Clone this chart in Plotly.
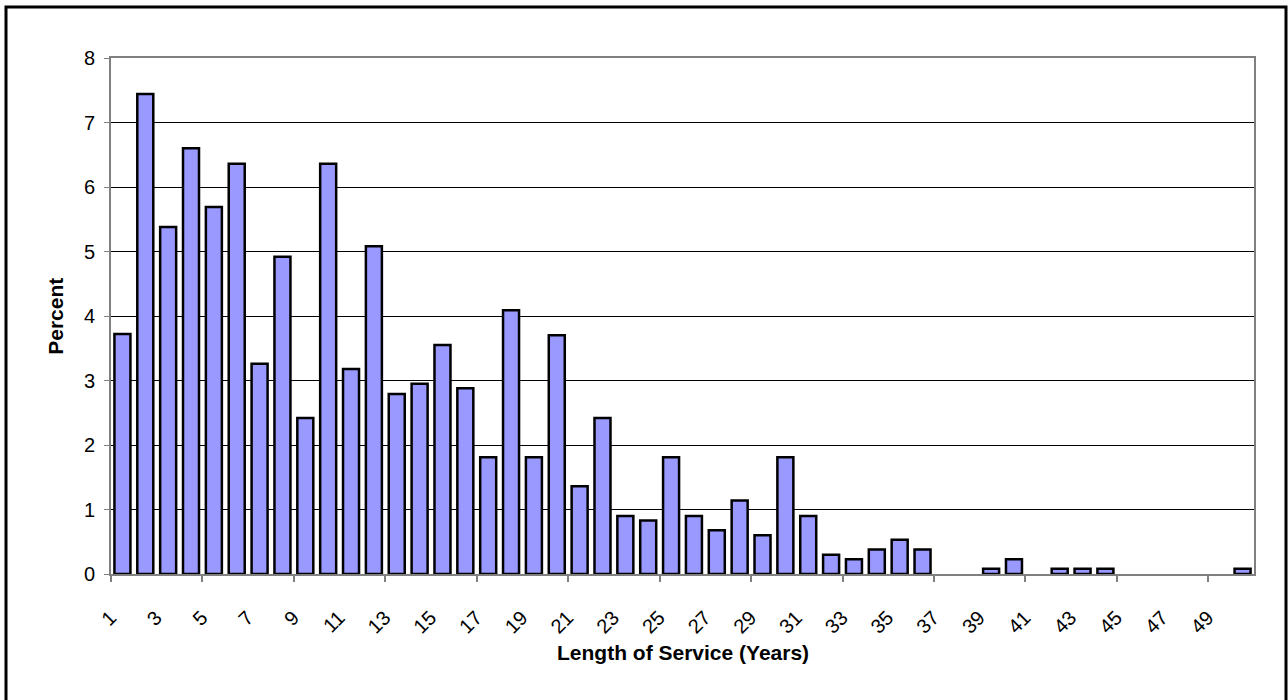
import plotly.graph_objects as go

# Length of service in years (categories) and percent of respondents
years = list(range(1, 51))
percent = [
    3.72, 7.44, 5.38, 6.60, 5.69, 6.36, 3.26, 4.92, 2.42, 6.36,
    3.18, 5.08, 2.79, 2.95, 3.55, 2.88, 1.81, 4.09, 1.81, 3.70,
    1.36, 2.42, 0.90, 0.83, 1.81, 0.90, 0.68, 1.14, 0.60, 1.81,
    0.90, 0.30, 0.23, 0.38, 0.53, 0.38, 0.00, 0.00, 0.08, 0.23,
    0.00, 0.08, 0.08, 0.08, 0.00, 0.00, 0.00, 0.00, 0.00, 0.08,
]
label_years = list(range(1, 50, 2))
boundary_ticks = [0.5 + 4 * i for i in range(13)]
y_ticks = list(range(0, 9))

FONT = "Arial, Liberation Sans, sans-serif"

# empty years get no outline so the baseline stays clean
outline_widths = [2.5 if v > 0 else 0 for v in percent]

fig = go.Figure(
    go.Bar(
        x=years,
        y=percent,
        marker=dict(color="#9999FF", line=dict(color="#000000", width=outline_widths)),
        hoverinfo="x+y",
    )
)

fig.update_layout(
    width=1288,
    height=700,
    margin=dict(l=111, r=34, t=58, b=126),
    paper_bgcolor="white",
    plot_bgcolor="white",
    bargap=0.3,
    showlegend=False,
    font=dict(family=FONT, color="#000000"),
    xaxis=dict(
        range=[0.5, 50.5],
        tickmode="array",
        tickvals=label_years,
        ticktext=[str(v) for v in label_years],
        tickangle=-45,
        ticks="",
        ticklabelstandoff=22,
        ticklabelshift=-12,
        tickfont=dict(size=20, family=FONT),
        showgrid=False,
        zeroline=False,
        showline=True,
        linecolor="#808080",
        linewidth=2,
        mirror=True,
        minor=dict(
            tickmode="array",
            tickvals=boundary_ticks,
            ticks="outside",
            ticklen=6,
            tickwidth=2,
            tickcolor="#808080",
            showgrid=False,
        ),
    ),
    yaxis=dict(
        range=[0, 8],
        tickmode="array",
        tickvals=y_ticks,
        ticks="outside",
        ticklen=5,
        tickwidth=1,
        tickcolor="#808080",
        tickfont=dict(size=20, family=FONT),
        ticklabelstandoff=5,
        showgrid=True,
        gridcolor="#000000",
        gridwidth=1,
        zeroline=False,
        showline=True,
        linecolor="#808080",
        linewidth=2,
        mirror=True,
    ),
    annotations=[
        dict(
            text="<b>Length of Service (Years)</b>",
            xref="paper", yref="paper",
            x=0.5, y=(574.4 - 653) / 516.4,
            xanchor="center", yanchor="middle",
            showarrow=False,
            font=dict(size=21, family=FONT),
        ),
        dict(
            text="<b>Percent</b>",
            xref="paper", yref="paper",
            x=(56 - 111) / 1143, y=(574.4 - 317) / 516.4,
            xanchor="center", yanchor="middle",
            textangle=-90,
            showarrow=False,
            font=dict(size=21, family=FONT),
        ),
    ],
    shapes=[
        dict(
            type="rect",
            xref="paper", yref="paper",
            x0=(6 - 111) / 1143, x1=(1286 - 111) / 1143,
            y0=(574.4 - 730) / 516.4, y1=(574.4 - 7) / 516.4,
            line=dict(color="#000000", width=3),
            fillcolor="rgba(0,0,0,0)",
            layer="below",
        ),
    ],
)

fig.write_html("out.html")
